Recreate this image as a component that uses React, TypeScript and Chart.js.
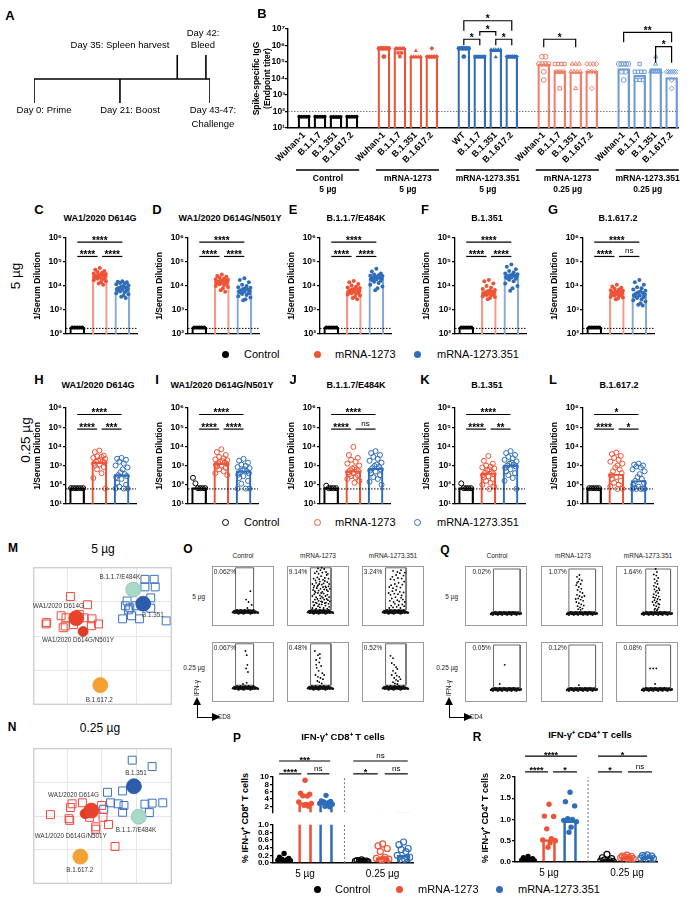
import React, { useEffect, useRef } from 'react';
import { Chart, registerables } from 'chart.js';

Chart.register(...registerables);

const FONT = '"Liberation Sans", Arial, Helvetica, sans-serif';
Chart.defaults.font.family = FONT;
Chart.defaults.color = '#000';
(Chart.defaults as any).animation = false;
Chart.defaults.plugins.legend.display = false;
Chart.defaults.plugins.tooltip.enabled = false;

const RED = '#EF5235';
const BLUE = '#2F6DB8';
const RED_LIGHT = '#F27E69';
const BLUE_LIGHT = '#6F9AD5';
const RED_BAR = '#F39A88';
const BLUE_BAR = '#86A9DA';

// ---------------- A: timeline ----------------
const timelineDays = [0, 21, 35, 42, 43];
const timelineDir = [-1, -1, 1, 1, -1];

// ---------------- B: spike IgG ----------------
const bGroupNames = ['Control', 'mRNA-1273', 'mRNA-1273.351', 'mRNA-1273', 'mRNA-1273.351'];
const bGroupDoses = ['5 µg', '5 µg', '5 µg', '0.25 µg', '0.25 µg'];
const bVariantLabels = ['Wuhan-1', 'B.1.1.7', 'B.1.351', 'B.1.617.2'];
const bVariantLabelsG3 = ['WT', 'B.1.1.7', 'B.1.351', 'B.1.617.2'];
const bBarLog = [
  [1.7, 1.7, 1.68, 1.7],
  [5.83, 5.83, 5.33, 5.33],
  [5.83, 5.33, 5.73, 5.33],
  [4.88, 4.45, 4.41, 4.45],
  [4.6, 4.2, 4.6, 4.05],
];
const bPointLog = [
  [[1.7, 1.7, 1.7, 1.7, 1.7], [1.7, 1.7, 1.7, 1.7, 1.7], [1.68, 1.68, 1.68, 1.68, 1.68], [1.7, 1.7, 1.7, 1.7, 1.7]],
  [[5.83, 5.83, 5.83, 5.83, 5.83, 5.33], [5.83, 5.83, 5.83, 5.55, 5.55, 5.33], [5.33, 5.33, 5.33, 5.33, 5.33, 5.68], [5.33, 5.33, 5.33, 5.33, 5.33, 5.83]],
  [[5.83, 5.83, 5.83, 5.83, 5.83, 5.33], [5.33, 5.33, 5.33, 5.33, 5.33, 5.33], [5.75, 5.75, 5.75, 5.75, 5.75, 5.3], [5.33, 5.33, 5.33, 5.33, 5.33, 5.33]],
  [[5.32, 5.32, 4.88, 4.88, 4.88, 4.88, 4.41, 3.91], [4.88, 4.88, 4.88, 4.88, 4.41, 4.41, 4.41, 3.4], [4.88, 4.88, 4.88, 4.41, 4.41, 4.41, 4.41, 3.4], [4.88, 4.88, 4.88, 4.88, 4.41, 4.41, 4.41, 3.4]],
  [[4.88, 4.88, 4.88, 4.88, 4.88, 4.41, 4.41, 3.91], [4.88, 4.41, 4.41, 4.41, 4.41, 3.91, 3.91, 3.91], [5.32, 4.88, 4.41, 4.41, 4.41, 4.41, 4.41, 4.41], [4.41, 4.41, 4.41, 4.41, 4.41, 4.41, 3.91, 3.4]],
];
const bLodLog = 2;
const bSig = [
  { a: 10, b: 13, y: 7.5, t: '*', drop: 10 },
  { a: 11, b: 12, y: 6.84, t: '*', drop: 4 },
  { a: 10, b: 11, y: 6.38, t: '*', drop: 6 },
  { a: 12, b: 13, y: 6.38, t: '*', drop: 6 },
  { a: 15, b: 17, y: 6.38, t: '*', drop: 8 },
  { a: 20, b: 23, y: 6.8, t: '**', drop: 10 },
  { a: 22, b: 23, y: 5.93, t: '*', drop: 16 },
];

// ---------------- C-G: 5 µg neutralization (log10 titers) ----------------
const titer5Titles = ['WA1/2020 D614G', 'WA1/2020 D614G/N501Y', 'B.1.1.7/E484K', 'B.1.351', 'B.1.617.2'];
const titer5Bars = [[2.27, 4.43, 3.92], [2.27, 4.19, 3.79], [2.27, 3.79, 4.32], [2.27, 3.76, 4.43], [2.27, 3.68, 3.61]];
const titer5Ctrl = [
  [2.27, 2.27, 2.27, 2.27, 2.27], [2.27, 2.27, 2.27, 2.27, 2.27], [2.27, 2.27, 2.27, 2.27, 2.27],
  [2.27, 2.27, 2.27, 2.27, 2.27], [2.27, 2.27, 2.27, 2.27, 2.27],
];
const titer5M = [
  [4.75, 4.68, 4.62, 4.58, 4.55, 4.52, 4.5, 4.48, 4.46, 4.44, 4.42, 4.4, 4.38, 4.36, 4.34, 4.32, 4.3, 4.27, 4.24, 4.2, 4.15, 4.1, 4.05],
  [4.48, 4.42, 4.38, 4.34, 4.31, 4.28, 4.26, 4.24, 4.22, 4.2, 4.18, 4.17, 4.15, 4.13, 4.11, 4.09, 4.07, 4.04, 4.0, 3.96, 3.9, 3.82, 3.76],
  [4.21, 4.15, 4.08, 4.02, 3.97, 3.94, 3.91, 3.88, 3.86, 3.84, 3.82, 3.8, 3.78, 3.76, 3.74, 3.72, 3.7, 3.67, 3.64, 3.6, 3.55, 3.5, 3.45],
  [4.25, 4.2, 4.1, 4.0, 3.92, 3.87, 3.83, 3.8, 3.78, 3.76, 3.74, 3.72, 3.7, 3.68, 3.66, 3.64, 3.62, 3.6, 3.57, 3.54, 3.5, 3.45],
  [4.05, 3.98, 3.92, 3.88, 3.85, 3.82, 3.8, 3.78, 3.76, 3.74, 3.72, 3.7, 3.68, 3.66, 3.64, 3.62, 3.6, 3.58, 3.55, 3.52, 3.48, 3.45],
];
const titer5S = [
  [4.2, 4.18, 4.15, 4.12, 4.1, 4.07, 4.03, 4.0, 3.97, 3.94, 3.92, 3.9, 3.87, 3.85, 3.82, 3.8, 3.77, 3.74, 3.7, 3.65, 3.6, 3.55, 3.5],
  [4.32, 4.25, 4.15, 4.05, 4.0, 3.95, 3.92, 3.9, 3.87, 3.85, 3.82, 3.8, 3.78, 3.76, 3.73, 3.7, 3.66, 3.62, 3.57, 3.52, 3.45, 3.4],
  [4.72, 4.6, 4.52, 4.48, 4.45, 4.43, 4.41, 4.39, 4.37, 4.35, 4.33, 4.31, 4.29, 4.27, 4.25, 4.22, 4.18, 4.12, 4.05, 3.98, 3.9, 3.82],
  [4.89, 4.8, 4.7, 4.62, 4.56, 4.52, 4.49, 4.47, 4.45, 4.43, 4.41, 4.39, 4.37, 4.35, 4.33, 4.3, 4.26, 4.2, 4.1, 4.0, 3.9, 3.8],
  [4.25, 4.15, 4.05, 3.95, 3.9, 3.85, 3.8, 3.77, 3.74, 3.71, 3.68, 3.65, 3.62, 3.6, 3.57, 3.54, 3.5, 3.45, 3.4, 3.35, 3.28, 3.22, 3.18],
];
const titer5Sig = [
  ['****', '****', '****'], ['****', '****', '****'], ['****', '****', '****'], ['****', '****', '****'], ['****', '****', 'ns'],
];
const titer5Lod = 2.23;

// ---------------- H-L: 0.25 µg neutralization ----------------
const titer025Titles = ['WA1/2020 D614G', 'WA1/2020 D614G/N501Y', 'B.1.1.7/E484K', 'B.1.351', 'B.1.617.2'];
const titer025Bars = [[1.85, 3.17, 2.53], [1.85, 3.12, 2.73], [1.85, 2.73, 2.86], [1.85, 2.61, 3.03], [1.85, 2.56, 2.22]];
const titer025Ctrl = [
  [1.82, 1.82, 1.82, 1.82, 1.82, 1.82], [2.36, 2.07, 1.82, 1.82, 1.82, 1.82], [1.95, 1.82, 1.82, 1.82, 1.82],
  [2.07, 1.82, 1.82, 1.82, 1.82], [1.82, 1.82, 1.82, 1.82, 1.82],
];
const titer025M = [
  [3.78, 3.7, 3.52, 3.48, 3.45, 3.4, 3.35, 3.3, 3.27, 3.22, 3.2, 3.15, 3.1, 3.05, 3.0, 2.92, 2.8, 2.6, 2.35, 1.8],
  [3.85, 3.7, 3.55, 3.45, 3.38, 3.32, 3.28, 3.24, 3.2, 3.16, 3.12, 3.08, 3.04, 3.0, 2.95, 2.88, 2.8, 2.7, 2.6, 2.5],
  [3.97, 3.55, 3.4, 3.3, 3.2, 3.1, 3.0, 2.9, 2.85, 2.8, 2.75, 2.7, 2.65, 2.6, 2.55, 2.5, 2.45, 2.4, 2.3, 2.2, 2.1],
  [3.5, 3.25, 3.1, 3.0, 2.95, 2.9, 2.85, 2.8, 2.75, 2.68, 2.62, 2.56, 2.5, 2.44, 2.38, 2.3, 2.2, 2.1, 2.0, 1.9, 1.78],
  [3.68, 3.6, 3.5, 3.4, 3.3, 3.2, 3.1, 3.0, 2.9, 2.8, 2.7, 2.6, 2.5, 2.4, 2.3, 2.2, 2.1, 2.0, 1.9, 1.8, 1.78],
];
const titer025S = [
  [3.4, 3.35, 3.3, 3.2, 3.1, 3.0, 2.9, 2.8, 2.65, 2.55, 2.5, 2.45, 2.4, 2.3, 2.1, 2.0, 1.9, 1.8, 1.8, 1.8],
  [3.35, 3.25, 3.15, 3.05, 2.98, 2.92, 2.86, 2.8, 2.75, 2.7, 2.65, 2.6, 2.52, 2.45, 2.35, 2.2, 2.05, 1.8, 1.8, 1.8],
  [3.75, 3.65, 3.55, 3.45, 3.35, 3.25, 3.15, 3.05, 2.98, 2.92, 2.86, 2.8, 2.74, 2.68, 2.6, 2.5, 2.4, 2.3, 2.15, 2.0],
  [3.75, 3.65, 3.55, 3.45, 3.38, 3.3, 3.22, 3.15, 3.1, 3.05, 3.0, 2.95, 2.88, 2.8, 2.7, 2.6, 2.5, 2.35, 2.2, 1.78],
  [3.1, 3.05, 3.0, 2.95, 2.9, 2.8, 2.7, 2.55, 2.4, 2.3, 2.2, 2.1, 2.0, 1.9, 1.85, 1.8, 1.78, 1.78, 1.78, 1.78],
];
const titer025Sig = [
  ['****', '****', '***'], ['****', '****', '****'], ['****', '****', 'ns'], ['****', '****', '**'], ['*', '****', '*'],
];
const titer025Lod = 1.78;

// ---------------- M / N: antigenic maps ----------------
const mapAntigenNames = ['B.1.1.7/E484K', 'B.1.351', 'WA1/2020 D614G', 'WA1/2020 D614G/N501Y', 'B.1.617.2'];
const mapAntigenColors = ['#A6DAC6', '#2B5DAA', '#E8412C', '#DC3B26', '#F5A033'];
const mapAntigenSizes = [7.5, 7.5, 7.5, 5, 7.5];
const mAntigenXY = [[2.91, 3.35], [3.2, 2.94], [1.25, 2.52], [1.45, 2.13], [1.95, 0.57]];
const mLabelXY = [[2.52, 3.71], [3.48, 2.6], [0.73, 2.88], [1.3, 1.87], [1.92, 0.13]];
const mSeraRed = [[1.08, 3.15], [1.58, 2.91], [0.81, 2.59], [0.95, 2.53], [0.39, 2.39], [0.37, 2.35], [0.87, 2.24], [0.93, 2.29], [1.47, 2.53], [1.71, 2.5], [1.69, 2.3], [1.9, 2.35], [1.17, 2.33], [1.34, 2.63]];
const mSeraBlue = [[3.25, 3.65], [3.52, 3.65], [3.25, 3.43], [3.55, 3.43], [3.42, 3.11], [2.73, 3.02], [2.68, 2.88], [2.81, 2.82], [2.99, 2.88], [3.42, 2.81], [2.77, 2.76], [2.6, 2.5], [2.86, 2.59], [3.09, 2.5], [3.87, 2.44]];
const nAntigenXY = [[3.07, 1.98], [2.93, 2.88], [1.69, 2.16], [1.51, 2.07], [1.37, 0.8]];
const nLabelXY = [[2.99, 1.58], [2.99, 3.26], [1.17, 2.6], [1.09, 1.39], [1.35, 0.39]];
const nSeraRed = [[0.5, 2.04], [1.04, 1.92], [1.06, 1.87], [1.13, 2.36], [1.43, 2.39], [1.08, 2.25], [1.64, 1.96], [1.82, 1.68], [1.82, 1.61], [2.03, 1.96], [1.99, 2.31], [2.19, 1.75], [2.38, 1.1]];
const nSeraBlue = [[2.88, 3.65], [3.46, 3.46], [2.16, 2.7], [2.6, 2.74], [2.25, 2.39], [2.47, 2.36], [2.64, 2.31], [2.05, 2.2], [2.6, 2.11], [3.25, 2.35], [3.46, 2.38], [3.77, 2.39], [3.38, 2.1]];

// ---------------- O / Q: flow cytometry ----------------
const flowCols = ['Control', 'mRNA-1273', 'mRNA-1273.351'];
const flowOPct = ['0.062%', '9.14%', '3.24%', '0.067%', '0.48%', '0.52%'];
const flowQPct = ['0.02%', '1.07%', '1.64%', '0.05%', '0.12%', '0.08%'];
const flowOGates = [[38, 67, 27, 97], [38, 71, 27, 97], [38, 71, 27, 97], [38, 67, 28, 97], [38, 71, 28, 97], [38, 71, 28, 97]];
const flowQGates = [[46, 89, 24, 95], [45, 88, 24, 95], [48, 88, 24, 95], [46, 89, 24, 95], [45, 88, 24, 95], [48, 88, 24, 95]];
const flowOBand = '34 23,36 25,37 22,39 24,40 26,41 22,42 24,43 21,44 25,45 23,46 26,47 22,48 24,49 23,50 25,51 21,52 24,53 26,54 22,55 23,56 25,57 24,58 22,59 26,60 23,61 24,62 21,63 25,64 23,65 22,66 24,67 26,68 23,69 22,70 24,72 23,74 22,45 24,55 24,65 24,40 23,50 22,60 25';
const flowQBand = '42 20,44 22,45 19,47 21,48 23,50 20,51 22,53 19,54 21,56 23,57 20,59 22,60 19,62 21,63 23,65 20,66 22,68 19,69 21,71 23,72 20,74 22,75 19,77 21,78 23,80 20,81 22,83 19,84 21,86 22,88 20,90 21,55 21,65 21,75 21,85 21,50 21';
const flowOPts = [
  '62 58,55 44,59 40,64 35,57 30',
  '41 30,44 35,47 29,50 33,53 31,56 36,59 30,62 34,65 29,68 32,42 40,45 44,48 38,51 42,54 46,57 40,60 44,63 39,66 43,69 41,41 50,44 53,47 48,50 55,53 51,56 49,59 54,62 50,65 52,68 48,42 60,45 58,48 63,51 59,54 62,57 57,60 61,63 64,66 58,69 62,41 70,44 67,47 72,50 68,53 74,56 69,59 71,62 66,65 73,68 70,43 79,46 76,49 81,52 78,55 83,58 77,61 80,64 85,67 79,45 88,48 91,51 87,54 93,57 89,60 95,63 90,66 87,50 96,56 97,43 34,46 39,49 45,52 36,55 41,58 47,61 38,64 45,67 37,43 64,46 56,49 66,52 70,55 55,58 65,61 75,64 60,67 66',
  '44 30,47 34,50 31,53 37,56 32,59 35,62 30,65 36,68 33,45 42,48 46,51 40,54 48,57 43,60 41,63 47,66 44,69 40,43 55,46 52,49 58,52 54,55 60,58 53,61 57,64 51,67 56,44 65,47 68,50 63,53 70,56 66,59 72,62 64,65 69,68 74,46 78,49 82,52 77,55 85,58 80,61 88,64 79,67 84,50 92,57 90,63 93,69 89',
  '54 85,56 78,57 62,55 56,58 50,50 30,56 32',
  '45 85,50 78,53 80,47 70,52 66,55 60,48 57,51 52,57 48,46 45,50 42,54 40,58 38,49 35,52 33,56 31,60 45,47 62,53 73',
  '46 77,50 73,48 65,52 62,55 58,57 55,50 52,54 48,56 44,60 42,52 40,55 37,58 35,50 33,53 31,57 30,62 38,48 45',
];
const flowQPts = [
  '',
  '58 82,62 78,60 74,64 70,57 68,61 65,65 62,59 60,63 57,67 55,58 52,62 50,66 48,60 46,64 44,68 42,57 40,61 38,65 36,69 34,59 33,63 31,67 29,60 28,64 27,62 85,66 76,58 72,70 50,56 45',
  '64 95,66 90,61 86,65 84,68 80,62 78,66 75,63 72,67 70,61 67,65 65,69 63,62 61,66 59,64 57,68 55,61 53,65 51,69 49,63 47,67 45,62 43,66 41,64 39,68 37,61 35,65 33,69 31,63 29,67 28,62 27,66 26,70 60,60 48,71 44,59 40,70 36',
  '64 62,56 30',
  '61 28',
  '55 56,60 56,65 56,63 30',
];

// ---------------- P / R: IFN-γ+ T cells ----------------
const prGroupLabels = ['5 µg', '0.25 µg'];
const pBars = [0.08, 3.0, 3.0, 0.04, 0.14, 0.2];
const pPoints = [
  [0.25, 0.15, 0.12, 0.1, 0.08, 0.07, 0.06, 0.05, 0.04, 0.03],
  [9.1, 5.6, 5.3, 4.9, 4.8, 3.2, 2.8, 2.5, 2.3, 2.0],
  [5.0, 3.5, 3.3, 3.2, 3.0, 2.8, 2.6, 2.3, 2.0, 1.9],
  [0.08, 0.06, 0.05, 0.05, 0.04, 0.04, 0.03, 0.03, 0.02, 0.02],
  [0.5, 0.45, 0.38, 0.3, 0.15, 0.12, 0.1, 0.1, 0.08, 0.05],
  [0.55, 0.48, 0.38, 0.35, 0.3, 0.2, 0.15, 0.1, 0.05, 0.02],
];
const pSig = [
  { a: -0.24, b: 2.2, y: 14.36, t: '***' }, { a: -0.24, b: 0.82, y: 10.86, t: '****' }, { a: 1.1, b: 2.16, y: 10.86, t: 'ns' },
  { a: 3.3, b: 5.9, y: 14.36, t: 'ns' }, { a: 3.3, b: 4.47, y: 10.86, t: '*' }, { a: 4.8, b: 5.9, y: 10.86, t: 'ns' },
];
const rBars = [0.05, 0.53, 0.97, 0.05, 0.11, 0.12];
const rPoints = [
  [0.13, 0.1, 0.08, 0.06, 0.05, 0.04, 0.03, 0.02, 0.01],
  [1.36, 1.08, 1.07, 0.78, 0.55, 0.52, 0.5, 0.45, 0.35],
  [1.64, 1.42, 1.32, 1.02, 1.0, 0.98, 0.95, 0.82, 0.7],
  [0.18, 0.1, 0.08, 0.05, 0.03, 0.02, 0.01, 0.0],
  [0.16, 0.14, 0.13, 0.12, 0.1, 0.1, 0.08, 0.07],
  [0.17, 0.15, 0.14, 0.13, 0.1, 0.09, 0.08, 0.06],
];
const rSig = [
  { a: -0.14, b: 2.33, y: 2.49, t: '****' }, { a: -0.14, b: 0.95, y: 2.12, t: '****' }, { a: 1.19, b: 2.33, y: 2.12, t: '*' },
  { a: 3.33, b: 5.67, y: 2.49, t: '*' }, { a: 3.33, b: 4.48, y: 2.12, t: '*' }, { a: 4.76, b: 5.9, y: 2.12, t: 'ns' },
];

// =====================================================================
const SUP = ['⁰', '¹', '²', '³', '⁴', '⁵', '⁶', '⁷'];
const pow10Label = (v: number) => '10' + SUP[Math.round(Math.log10(v))];
const JIT = [0, -0.2, 0.2, -0.1, 0.1, -0.27, 0.27, 0.05, -0.05, 0.15, -0.15, 0.24, -0.24];
const JIT_PR = [0, -0.22, 0.22, -0.11, 0.11, -0.3, 0.3, 0.05, -0.05, 0.17];
const parsePts = (s: string) => s.trim() === '' ? [] : s.split(',').map((p) => {
  const [a, b] = p.trim().split(/\s+/).map(Number);
  return { x: a, y: b };
});

function annot(items: any[], frame?: string) {
  return {
    id: 'annot',
    afterDatasetsDraw(chart: any) {
      const ctx = chart.ctx;
      const xs = chart.scales.x;
      const ys = chart.scales.y;
      const ca = chart.chartArea;
      ctx.save();
      if (frame) {
        ctx.strokeStyle = frame;
        ctx.lineWidth = 1;
        ctx.strokeRect(ca.left + 0.5, ca.top + 0.5, ca.right - ca.left - 1, ca.bottom - ca.top - 1);
      }
      for (const it of items) {
        const X = (v: number) => xs.getPixelForValue(v);
        const Y = it.py !== undefined ? it.py : ys.getPixelForValue(it.y);
        if (it.t === 'br') {
          const x1 = X(it.x1), x2 = X(it.x2), d = it.drop || 0;
          ctx.strokeStyle = '#000';
          ctx.lineWidth = 1.2;
          ctx.beginPath();
          ctx.moveTo(x1, Y + d); ctx.lineTo(x1, Y); ctx.lineTo(x2, Y); ctx.lineTo(x2, Y + d);
          ctx.stroke();
          if (it.text) {
            const ns = it.text === 'ns';
            ctx.font = `${ns ? 400 : 700} ${ns ? 8 : (it.fs || 10)}px ${FONT}`;
            ctx.fillStyle = '#000';
            ctx.textAlign = 'center';
            ctx.textBaseline = 'alphabetic';
            ctx.fillText(it.text, (x1 + x2) / 2, ns ? Y - 3 : Y + 1.5);
          }
        } else if (it.t === 'hl') {
          ctx.strokeStyle = '#000';
          ctx.lineWidth = it.w || 1.2;
          ctx.beginPath(); ctx.moveTo(X(it.x1), Y); ctx.lineTo(X(it.x2), Y); ctx.stroke();
        } else if (it.t === 'tx') {
          ctx.font = `${it.bold ? 700 : 400} ${it.fs || 8}px ${FONT}`;
          ctx.fillStyle = it.color || '#000';
          ctx.textAlign = it.align || 'center';
          ctx.textBaseline = 'middle';
          ctx.fillText(it.text, X(it.x), Y);
        }
      }
      ctx.restore();
    },
  };
}

const baseOpts = (o: any) => ({ responsive: false, maintainAspectRatio: false, animation: false, events: [], ...o });

function ChartBox({ x, y, w, h, make }: { x: number; y: number; w: number; h: number; make: () => any }) {
  const ref = useRef<HTMLCanvasElement>(null);
  useEffect(() => {
    const chart = new Chart(ref.current as HTMLCanvasElement, make());
    return () => chart.destroy();
  }, []);
  return <canvas ref={ref} width={w} height={h} style={{ position: 'absolute', left: x, top: y, width: w, height: h }} />;
}

function Txt({ x, y, s, size = 9, bold = false, align = 'center', rot = 0, color = '#000' }: any) {
  const tx = align === 'center' ? '-50%' : align === 'right' ? '-100%' : '0';
  return (
    <div style={{ position: 'absolute', left: x, top: y, transform: `translate(${tx},-50%) rotate(${rot}deg)`, fontSize: size, fontWeight: bold ? 700 : 400, fontFamily: FONT, whiteSpace: 'nowrap', lineHeight: 1, color }}>{s}</div>
  );
}

// ---------------- configs ----------------
function timelineCfg() {
  const ds: any[] = [{ data: [{ x: timelineDays[0], y: 0 }, { x: timelineDays[timelineDays.length - 1], y: 0 }] }];
  timelineDays.forEach((d, i) => ds.push({ data: [{ x: d, y: 0 }, { x: d, y: timelineDir[i] }] }));
  return {
    type: 'scatter',
    data: { datasets: ds.map((d) => ({ ...d, showLine: true, borderColor: '#000', borderWidth: 1.6, pointRadius: 0 })) },
    options: baseOpts({
      layout: { padding: { left: 34, right: 30, top: 5, bottom: 7 } },
      scales: { x: { display: false, type: 'linear', min: 0, max: 43 }, y: { display: false, min: -1, max: 1 } },
    }),
  };
}

function bCfg() {
  const ticks: number[] = [];
  const tickLabel: Record<number, string> = {};
  const barData: any[] = [];
  const barCols: string[] = [];
  const groupCol = ['#000', RED, BLUE, RED_LIGHT, BLUE_LIGHT];
  const styles = ['circle', 'rect', 'triangle', 'rectRot'];
  const ds: any[] = [];
  for (let g = 0; g < 5; g++) {
    for (let j = 0; j < 4; j++) {
      const xv = g * 5 + j;
      ticks.push(xv);
      tickLabel[xv] = g === 2 ? bVariantLabelsG3[j] : bVariantLabels[j];
      barData.push({ x: xv, y: 10 ** bBarLog[g][j] });
      barCols.push(groupCol[g]);
      const vals = bPointLog[g][j];
      const pts = vals.map((v, i) => {
        const same = vals.filter((u) => u === v).length;
        const k = vals.slice(0, i).filter((u) => u === v).length;
        const spread = Math.min(0.22, 0.6 / Math.max(1, same - 1));
        return { x: xv + (k - (same - 1) / 2) * spread, y: 10 ** v };
      });
      const open = g >= 3;
      ds.push({
        type: 'scatter', data: pts, pointStyle: g === 0 ? 'circle' : styles[j], pointRadius: g === 0 ? 1.8 : 2.4,
        pointBackgroundColor: open ? 'rgba(255,255,255,0)' : groupCol[g], pointBorderColor: groupCol[g],
        pointBorderWidth: open ? 1 : 0, order: 1,
      });
    }
  }
  ds.unshift({ type: 'bar', data: barData, backgroundColor: 'rgba(0,0,0,0)', borderColor: barCols, borderWidth: 1.6, barThickness: 12, order: 3 });
  ds.push({ type: 'line', data: [{ x: -1, y: 10 ** bLodLog }, { x: 23.4, y: 10 ** bLodLog }], borderColor: '#777', borderWidth: 1, borderDash: [1.5, 1.5], pointRadius: 0, order: 0 });
  const items: any[] = [];
  bSig.forEach((s) => items.push({ t: 'br', x1: s.a, x2: s.b, y: 10 ** s.y, drop: s.drop, text: s.t }));
  for (let g = 0; g < 5; g++) {
    items.push({ t: 'hl', x1: g * 5 - 0.5, x2: g * 5 + 3.45, py: 170, w: 1.3 });
    items.push({ t: 'tx', x: g * 5 + 1.5, py: 179, text: bGroupNames[g], bold: true, fs: 8.5 });
    items.push({ t: 'tx', x: g * 5 + 1.5, py: 190, text: bGroupDoses[g], bold: true, fs: 8.5 });
  }
  return {
    type: 'bar',
    data: { datasets: ds },
    plugins: [annot(items)],
    options: baseOpts({
      layout: { padding: { top: 29, right: 17, left: 0, bottom: 0 } },
      scales: {
        x: {
          type: 'linear', min: -1, max: 23.4, offset: false,
          afterBuildTicks: (s: any) => { s.ticks = ticks.map((v) => ({ value: v })); },
          ticks: { callback: (v: any) => tickLabel[v] ?? '', autoSkip: false, minRotation: 45, maxRotation: 45, font: { size: 9, weight: 'bold' }, padding: 2, color: '#000' },
          grid: { display: true, drawOnChartArea: false, drawTicks: false, offset: false },
          border: { display: true, color: '#000', width: 1.4 },
          afterFit: (s: any) => { s.height = 72; },
        },
        y: {
          type: 'logarithmic', min: 10, max: 1e7,
          afterBuildTicks: (s: any) => { s.ticks = [1, 2, 3, 4, 5, 6, 7].map((e) => ({ value: 10 ** e })); },
          ticks: { callback: (v: any) => pow10Label(v), font: { size: 8.5, weight: 'bold' }, padding: 0, autoSkip: false, color: '#000' },
          grid: { display: true, drawOnChartArea: false, drawTicks: true, tickLength: 3, color: '#000', lineWidth: 1.2 },
          border: { display: true, color: '#000', width: 1.4 },
          title: { display: true, text: ['Spike-specific IgG', '(Endpoint titer)'], font: { size: 8.5, weight: 'bold' }, padding: { top: 22, bottom: 0 }, color: '#000' },
          afterFit: (s: any) => { s.width = 58; },
        },
      },
    }),
  };
}

function titerCfg(row: number, idx: number) {
  const is5 = row === 1;
  const bars = is5 ? titer5Bars[idx] : titer025Bars[idx];
  const groups = is5 ? [titer5Ctrl[idx], titer5M[idx], titer5S[idx]] : [titer025Ctrl[idx], titer025M[idx], titer025S[idx]];
  const sig = is5 ? titer5Sig[idx] : titer025Sig[idx];
  const lod = is5 ? titer5Lod : titer025Lod;
  const exps = is5 ? [2, 3, 4, 5, 6] : [1, 2, 3, 4, 5, 6];
  const barCols = is5 ? ['#000', RED_BAR, BLUE_BAR] : ['#000', RED, BLUE];
  const ptCols = ['#000', RED, BLUE];
  const ds: any[] = [{ type: 'bar', data: bars.map((v, i) => ({ x: i, y: 10 ** v })), backgroundColor: 'rgba(0,0,0,0)', borderColor: barCols, borderWidth: 1.5, barThickness: 15, order: 3 }];
  groups.forEach((g, gi) => {
    ds.push({
      type: 'scatter',
      data: g.map((v, i) => ({ x: gi + (gi === 0 ? (i - (g.length - 1) / 2) * 0.11 : JIT[i % JIT.length]), y: 10 ** v })),
      pointRadius: is5 ? 2 : 2.5,
      pointBackgroundColor: is5 ? ptCols[gi] : 'rgba(255,255,255,0)',
      pointBorderColor: ptCols[gi], pointBorderWidth: is5 ? 0 : 1, order: 1,
    });
  });
  ds.push({ type: 'line', data: [{ x: -0.5, y: 10 ** lod }, { x: 2.65, y: 10 ** lod }], borderColor: '#000', borderWidth: 1, borderDash: [1.5, 1.5], pointRadius: 0, order: 0 });
  const yU = is5 ? 5.83 : 5.66;
  const yL = is5 ? 5.23 : 4.9;
  const items = [
    { t: 'br', x1: 0, x2: 2, y: 10 ** yU, text: sig[0] },
    { t: 'br', x1: 0, x2: 0.9, y: 10 ** yL, text: sig[1] },
    { t: 'br', x1: 1.1, x2: 2, y: 10 ** yL, text: sig[2] },
  ];
  return {
    type: 'bar',
    data: { datasets: ds },
    plugins: [annot(items)],
    options: baseOpts({
      layout: { padding: { top: 14, bottom: is5 ? 2.5 : 3, left: 0, right: 3 } },
      scales: {
        x: {
          type: 'linear', min: -0.5, max: 2.65, offset: false,
          grid: { display: true, drawOnChartArea: false, drawTicks: false, offset: false }, ticks: { display: false },
          border: { display: true, color: '#000', width: 1.3 },
          afterFit: (s: any) => { s.height = 0; },
        },
        y: {
          type: 'logarithmic', min: 10 ** exps[0], max: 1e6,
          afterBuildTicks: (s: any) => { s.ticks = exps.map((e) => ({ value: 10 ** e })); },
          ticks: { callback: (v: any) => pow10Label(v), font: { size: 8.5, weight: 'bold' }, padding: 1, autoSkip: false, color: '#000' },
          grid: { display: true, drawOnChartArea: false, drawTicks: true, tickLength: 3, color: '#000', lineWidth: 1.2 },
          border: { display: true, color: '#000', width: 1.3 },
          title: { display: true, text: '1/Serum Dilution', font: { size: 8.5, weight: 'bold' }, padding: { top: 2, bottom: 0 }, color: '#000' },
          afterFit: (s: any) => { s.width = 35; },
        },
      },
    }),
  };
}

function mapCfg(which: 'M' | 'N') {
  const agXY = which === 'M' ? mAntigenXY : nAntigenXY;
  const lbXY = which === 'M' ? mLabelXY : nLabelXY;
  const red = which === 'M' ? mSeraRed : nSeraRed;
  const blue = which === 'M' ? mSeraBlue : nSeraBlue;
  const ds: any[] = [
    { data: red.map(([x, y]) => ({ x, y })), pointStyle: 'rect', pointRadius: 5.6, pointBorderColor: '#EE4A3D', pointBackgroundColor: 'rgba(255,255,255,0)', pointBorderWidth: 1, order: 2 },
    { data: blue.map(([x, y]) => ({ x, y })), pointStyle: 'rect', pointRadius: 5.6, pointBorderColor: '#3A70C2', pointBackgroundColor: 'rgba(255,255,255,0)', pointBorderWidth: 1, order: 2 },
  ];
  agXY.forEach(([x, y], i) => ds.push({ data: [{ x, y }], pointRadius: mapAntigenSizes[i], pointBackgroundColor: mapAntigenColors[i], pointBorderColor: i === 0 ? '#8fbfae' : mapAntigenColors[i], pointBorderWidth: 0.8, order: 1 }));
  const items = lbXY.map(([x, y], i) => ({ t: 'tx', x, y, text: mapAntigenNames[i], fs: 6.3, color: '#333' }));
  return {
    type: 'scatter',
    data: { datasets: ds },
    plugins: [annot(items, '#c4c4c4')],
    options: baseOpts({
      layout: { padding: 0 },
      scales: {
        x: { type: 'linear', min: 0, max: 4.03, ticks: { display: false, stepSize: 1 }, grid: { color: '#e6e6e6', drawTicks: false }, border: { display: false }, afterFit: (s: any) => { s.height = 0; } },
        y: { type: 'linear', min: 0, max: 4, ticks: { display: false, stepSize: 1 }, grid: { color: '#e6e6e6', drawTicks: false }, border: { display: false }, afterFit: (s: any) => { s.width = 0; } },
      },
    }),
  };
}

function flowCfg(panel: 'O' | 'Q', i: number) {
  const gate = panel === 'O' ? flowOGates[i] : flowQGates[i];
  const band = parsePts(panel === 'O' ? flowOBand : flowQBand);
  const pts = parsePts(panel === 'O' ? flowOPts[i] : flowQPts[i]);
  const pct = panel === 'O' ? flowOPct[i] : flowQPct[i];
  const [x0, x1, y0, y1] = gate;
  const ds: any[] = [
    { type: 'line', data: [{ x: x0, y: y0 }, { x: x0, y: y1 }, { x: x1, y: y1 }, { x: x1, y: y0 }, { x: x0, y: y0 }], borderColor: '#6a6a6a', borderWidth: 1, pointRadius: 0, order: 2 },
    { type: 'scatter', data: band, pointRadius: 1.3, pointBackgroundColor: '#111', pointBorderWidth: 0, order: 1 },
    { type: 'scatter', data: pts, pointRadius: 0.9, pointBackgroundColor: '#000', pointBorderWidth: 0, order: 1 },
  ];
  const items = [{ t: 'tx', x: panel === 'O' ? 3 : 12, y: 89, text: pct, fs: 6.5, align: 'left', color: '#222' }];
  return {
    type: 'scatter',
    data: { datasets: ds },
    plugins: [annot(items, '#9a9a9a')],
    options: baseOpts({
      layout: { padding: 0 },
      scales: { x: { type: 'linear', display: false, min: 0, max: 100 }, y: { type: 'linear', display: false, min: 0, max: 100 } },
    }),
  };
}

const prColors = ['#000', RED, BLUE, '#000', RED, BLUE];
const prOpen = [false, false, false, true, true, true];

function prCfg(o: any) {
  const ds: any[] = [{ type: 'bar', data: o.bars.map((v: number, i: number) => ({ x: o.xs[i], y: v })), backgroundColor: 'rgba(0,0,0,0)', borderColor: prColors, borderWidth: 2, barThickness: 13, order: 3 }];
  o.pts.forEach((arr: number[], gi: number) => {
    ds.push({
      type: 'scatter',
      data: arr.map((v, i) => ({ x: o.xs[gi] + JIT_PR[i % JIT_PR.length], y: v })).filter((p) => o.keep(p.y)),
      pointRadius: prOpen[gi] ? 3 : 2.7,
      pointBackgroundColor: prOpen[gi] ? 'rgba(255,255,255,0)' : prColors[gi],
      pointBorderColor: prColors[gi], pointBorderWidth: prOpen[gi] ? 1.2 : 0, order: 1,
    });
  });
  ds.push({ type: 'line', data: [{ x: o.dashX, y: o.yMin }, { x: o.dashX, y: o.yMax }], borderColor: '#777', borderWidth: 1, borderDash: [2, 2], pointRadius: 0, order: 0 });
  const items = (o.sig || []).map((s: any) => ({ t: 'br', x1: s.a, x2: s.b, y: s.y, text: s.t, fs: 9 }));
  return {
    type: 'bar',
    data: { datasets: ds },
    plugins: [annot(items)],
    options: baseOpts({
      layout: { padding: { top: o.padTop, right: o.padRight, left: 0, bottom: 0 } },
      scales: {
        x: o.xAxis ? {
          type: 'linear', min: o.xMin, max: o.xMax, offset: false,
          afterBuildTicks: (s: any) => { s.ticks = o.xLabelPos.map((v: number) => ({ value: v })); },
          ticks: { callback: (_v: any, i: number) => prGroupLabels[i], font: { size: 10 }, padding: 5, autoSkip: false, maxRotation: 0, color: '#000' },
          grid: { display: true, drawOnChartArea: false, drawTicks: false, offset: false },
          border: { display: true, color: '#000', width: 1.4 },
          afterFit: (s: any) => { s.height = 18; },
        } : { type: 'linear', display: false, min: o.xMin, max: o.xMax, offset: false },
        y: {
          type: 'linear', min: o.yMin, max: o.yMax,
          afterBuildTicks: (s: any) => { s.ticks = o.yTicks.map((v: number) => ({ value: v })); },
          ticks: { callback: (v: any) => o.fmt(v), font: { size: 8, weight: 'bold' }, padding: 1, autoSkip: false, color: '#000' },
          grid: { display: true, drawOnChartArea: false, drawTicks: true, tickLength: 3, color: '#000', lineWidth: 1.2 },
          border: { display: true, color: '#000', width: 1.4 },
          afterFit: (s: any) => { s.width = o.yW; },
        },
      },
    }),
  };
}

const pXs = [0, 1, 2, 3.7, 4.7, 5.7];
const rXs = [0, 1, 2, 3.76, 4.71, 5.67];

const pUpperCfg = () => prCfg({ bars: pBars, xs: pXs, pts: pPoints, keep: (v: number) => v >= 1.2, yMin: 0.4, yMax: 10, yTicks: [2, 4, 6, 8, 10], fmt: (v: number) => String(v), xMin: -0.53, xMax: 6.15, dashX: 2.88, sig: pSig, xAxis: false, padTop: 37, padRight: 8, yW: 22 });
const pLowerCfg = () => prCfg({ bars: pBars, xs: pXs, pts: pPoints, keep: (v: number) => v <= 1.05, yMin: 0, yMax: 1, yTicks: [0, 0.2, 0.4, 0.6, 0.8, 1.0], fmt: (v: number) => v.toFixed(1), xMin: -0.53, xMax: 6.15, dashX: 2.88, sig: [], xAxis: true, xLabelPos: [1, 4.7], padTop: 5, padRight: 8, yW: 22 });
const rCfg = () => prCfg({ bars: rBars, xs: rXs, pts: rPoints, keep: () => true, yMin: 0, yMax: 2, yTicks: [0, 0.5, 1, 1.5, 2], fmt: (v: number) => v.toFixed(1), xMin: -0.62, xMax: 6.14, dashX: 2.86, sig: rSig, xAxis: true, xLabelPos: [1, 4.71], padTop: 37, padRight: 8, yW: 25 });

// ---------------- layout helpers ----------------
const titerAxisX = [66, 188, 320, 455, 583];
const titerLetterX = [39, 157, 293, 425, 553];
const titer5TitleX = [100, 230, 356, 487, 618];
const titer025TitleX = [98, 222, 356, 487, 619];
const flowOX = [208, 283, 358];
const flowQX = [461, 537, 612];
const flowRowY = [562, 638];

function Legend({ y, xs, open }: { y: number; xs: number[][]; open: boolean }) {
  const cols = ['#000', RED, BLUE];
  const labels = ['Control', 'mRNA-1273', 'mRNA-1273.351'];
  return (
    <>
      {xs.map(([dx, tx], i) => (
        <React.Fragment key={i}>
          <div style={{ position: 'absolute', left: dx - 3.5, top: y - 3.5, width: open ? 5 : 7, height: open ? 5 : 7, borderRadius: '50%', background: open ? 'transparent' : cols[i], border: open ? `1.5px solid ${cols[i]}` : 'none' }} />
          <Txt x={tx} y={y} s={labels[i]} size={11} align="left" />
        </React.Fragment>
      ))}
    </>
  );
}

function Axes({ x, y, label }: { x: number; y: number; label: string }) {
  return (
    <>
      <div style={{ position: 'absolute', left: x - 0.5, top: y - 12, width: 1.2, height: 12, background: '#000' }} />
      <div style={{ position: 'absolute', left: x - 4, top: y - 20, width: 0, height: 0, borderLeft: '4px solid transparent', borderRight: '4px solid transparent', borderBottom: '8px solid #000' }} />
      <div style={{ position: 'absolute', left: x, top: y - 0.5, width: 15, height: 1.2, background: '#000' }} />
      <div style={{ position: 'absolute', left: x + 15, top: y - 4, width: 0, height: 0, borderTop: '4px solid transparent', borderBottom: '4px solid transparent', borderLeft: '9px solid #000' }} />
      <Txt x={x + 27} y={y} s={label} size={6.5} color="#222" />
      <Txt x={x} y={y - 29} s="IFN-γ" size={6.5} rot={-90} color="#222" />
    </>
  );
}

export default function App() {
  return (
    <div style={{ position: 'absolute', left: 0, top: 0, width: 695, height: 900, background: '#fff', overflow: 'hidden', fontFamily: FONT }}>
      {/* A */}
      <Txt x={10} y={15} s="A" size={13} bold />
      <ChartBox x={0} y={50} w={240} h={60} make={timelineCfg} />
      <Txt x={120} y={45} s="Day 35: Spleen harvest" size={9.5} />
      <Txt x={203} y={33} s="Day 42:" size={9.5} />
      <Txt x={203} y={45} s="Bleed" size={9.5} />
      <Txt x={44} y={110} s="Day 0: Prime" size={9.5} />
      <Txt x={130} y={110} s="Day 21: Boost" size={9.5} />
      <Txt x={213} y={110} s="Day 43-47:" size={9.5} />
      <Txt x={213} y={124} s="Challenge" size={9.5} />

      {/* B */}
      <ChartBox x={230} y={0} w={465} h={200} make={bCfg} />
      <Txt x={262} y={13} s="B" size={13} bold />

      {/* C-G */}
      <Txt x={16} y={276} s="5 µg" size={13.5} rot={-90} />
      {titerAxisX.map((ax, i) => (
        <React.Fragment key={'r1' + i}>
          <ChartBox x={ax - 35} y={224} w={110} h={116} make={() => titerCfg(1, i)} />
          <Txt x={titerLetterX[i]} y={209} s={'CDEFG'[i]} size={13} bold />
          <Txt x={titer5TitleX[i]} y={218} s={titer5Titles[i]} size={9} bold />
        </React.Fragment>
      ))}
      <Legend y={354} xs={[[225, 244], [317, 335], [417, 437]]} open={false} />

      {/* H-L */}
      <Txt x={26} y={440} s="0.25 µg" size={13.5} rot={-90} />
      {titerAxisX.map((ax, i) => (
        <React.Fragment key={'r2' + i}>
          <ChartBox x={ax - 35} y={394} w={110} h={116} make={() => titerCfg(2, i)} />
          <Txt x={titerLetterX[i]} y={379} s={'HIJKL'[i]} size={13} bold />
          <Txt x={titer025TitleX[i]} y={385} s={titer025Titles[i]} size={9} bold />
        </React.Fragment>
      ))}
      <Legend y={522} xs={[[225, 244], [317, 335], [417, 437]]} open={true} />

      {/* M / N */}
      <Txt x={13} y={548} s="M" size={12} bold />
      <Txt x={103} y={549} s="5 µg" size={12} />
      <ChartBox x={25} y={559} w={155} h={154} make={() => mapCfg('M')} />
      <Txt x={12} y={727} s="N" size={12} bold />
      <Txt x={100} y={728} s="0.25 µg" size={12} />
      <ChartBox x={25} y={740} w={155} h={152} make={() => mapCfg('N')} />

      {/* O / Q */}
      <Txt x={188} y={549} s="O" size={12} bold />
      <Txt x={445} y={550} s="Q" size={12} bold />
      {flowCols.map((c, i) => (
        <React.Fragment key={'fc' + i}>
          <Txt x={flowOX[i] + 35} y={556} s={c} size={6.5} color="#222" />
          <Txt x={flowQX[i] + 36} y={556} s={c} size={6.5} color="#222" />
        </React.Fragment>
      ))}
      <Txt x={205} y={597} s="5 µg" size={6.5} align="right" color="#222" />
      <Txt x={205} y={668} s="0.25 µg" size={6.5} align="right" color="#222" />
      <Txt x={458} y={597} s="5 µg" size={6.5} align="right" color="#222" />
      <Txt x={458} y={668} s="0.25 µg" size={6.5} align="right" color="#222" />
      {[0, 1].map((r) => [0, 1, 2].map((c) => (
        <React.Fragment key={'f' + r + c}>
          <ChartBox x={flowOX[c]} y={flowRowY[r]} w={70} h={68} make={() => flowCfg('O', r * 3 + c)} />
          <ChartBox x={flowQX[c]} y={flowRowY[r]} w={70} h={68} make={() => flowCfg('Q', r * 3 + c)} />
        </React.Fragment>
      )))}
      <Axes x={197} y={717} label="CD8" />
      <Axes x={449} y={717} label="CD4" />

      {/* P */}
      <Txt x={237} y={738} s="P" size={12} bold />
      <Txt x={343} y={737} s="IFN-γ⁺ CD8⁺ T cells" size={9.5} bold />
      <Txt x={245} y={818} s="% IFN-γ⁺ CD8⁺ T cells" size={9} bold rot={-90} />
      <ChartBox x={251} y={740} w={170} h={78} make={pUpperCfg} />
      <ChartBox x={251} y={819} w={170} h={62} make={pLowerCfg} />

      {/* R */}
      <Txt x={477} y={737} s="R" size={12} bold />
      <Txt x={590} y={735} s="IFN-γ⁺ CD4⁺ T cells" size={9.5} bold />
      <Txt x={485} y={818} s="% IFN-γ⁺ CD4⁺ T cells" size={9} bold rot={-90} />
      <ChartBox x={490} y={740} w={175} h={140} make={rCfg} />

      <Legend y={889} xs={[[317, 335], [399, 418], [499, 518]]} open={false} />
    </div>
  );
}
